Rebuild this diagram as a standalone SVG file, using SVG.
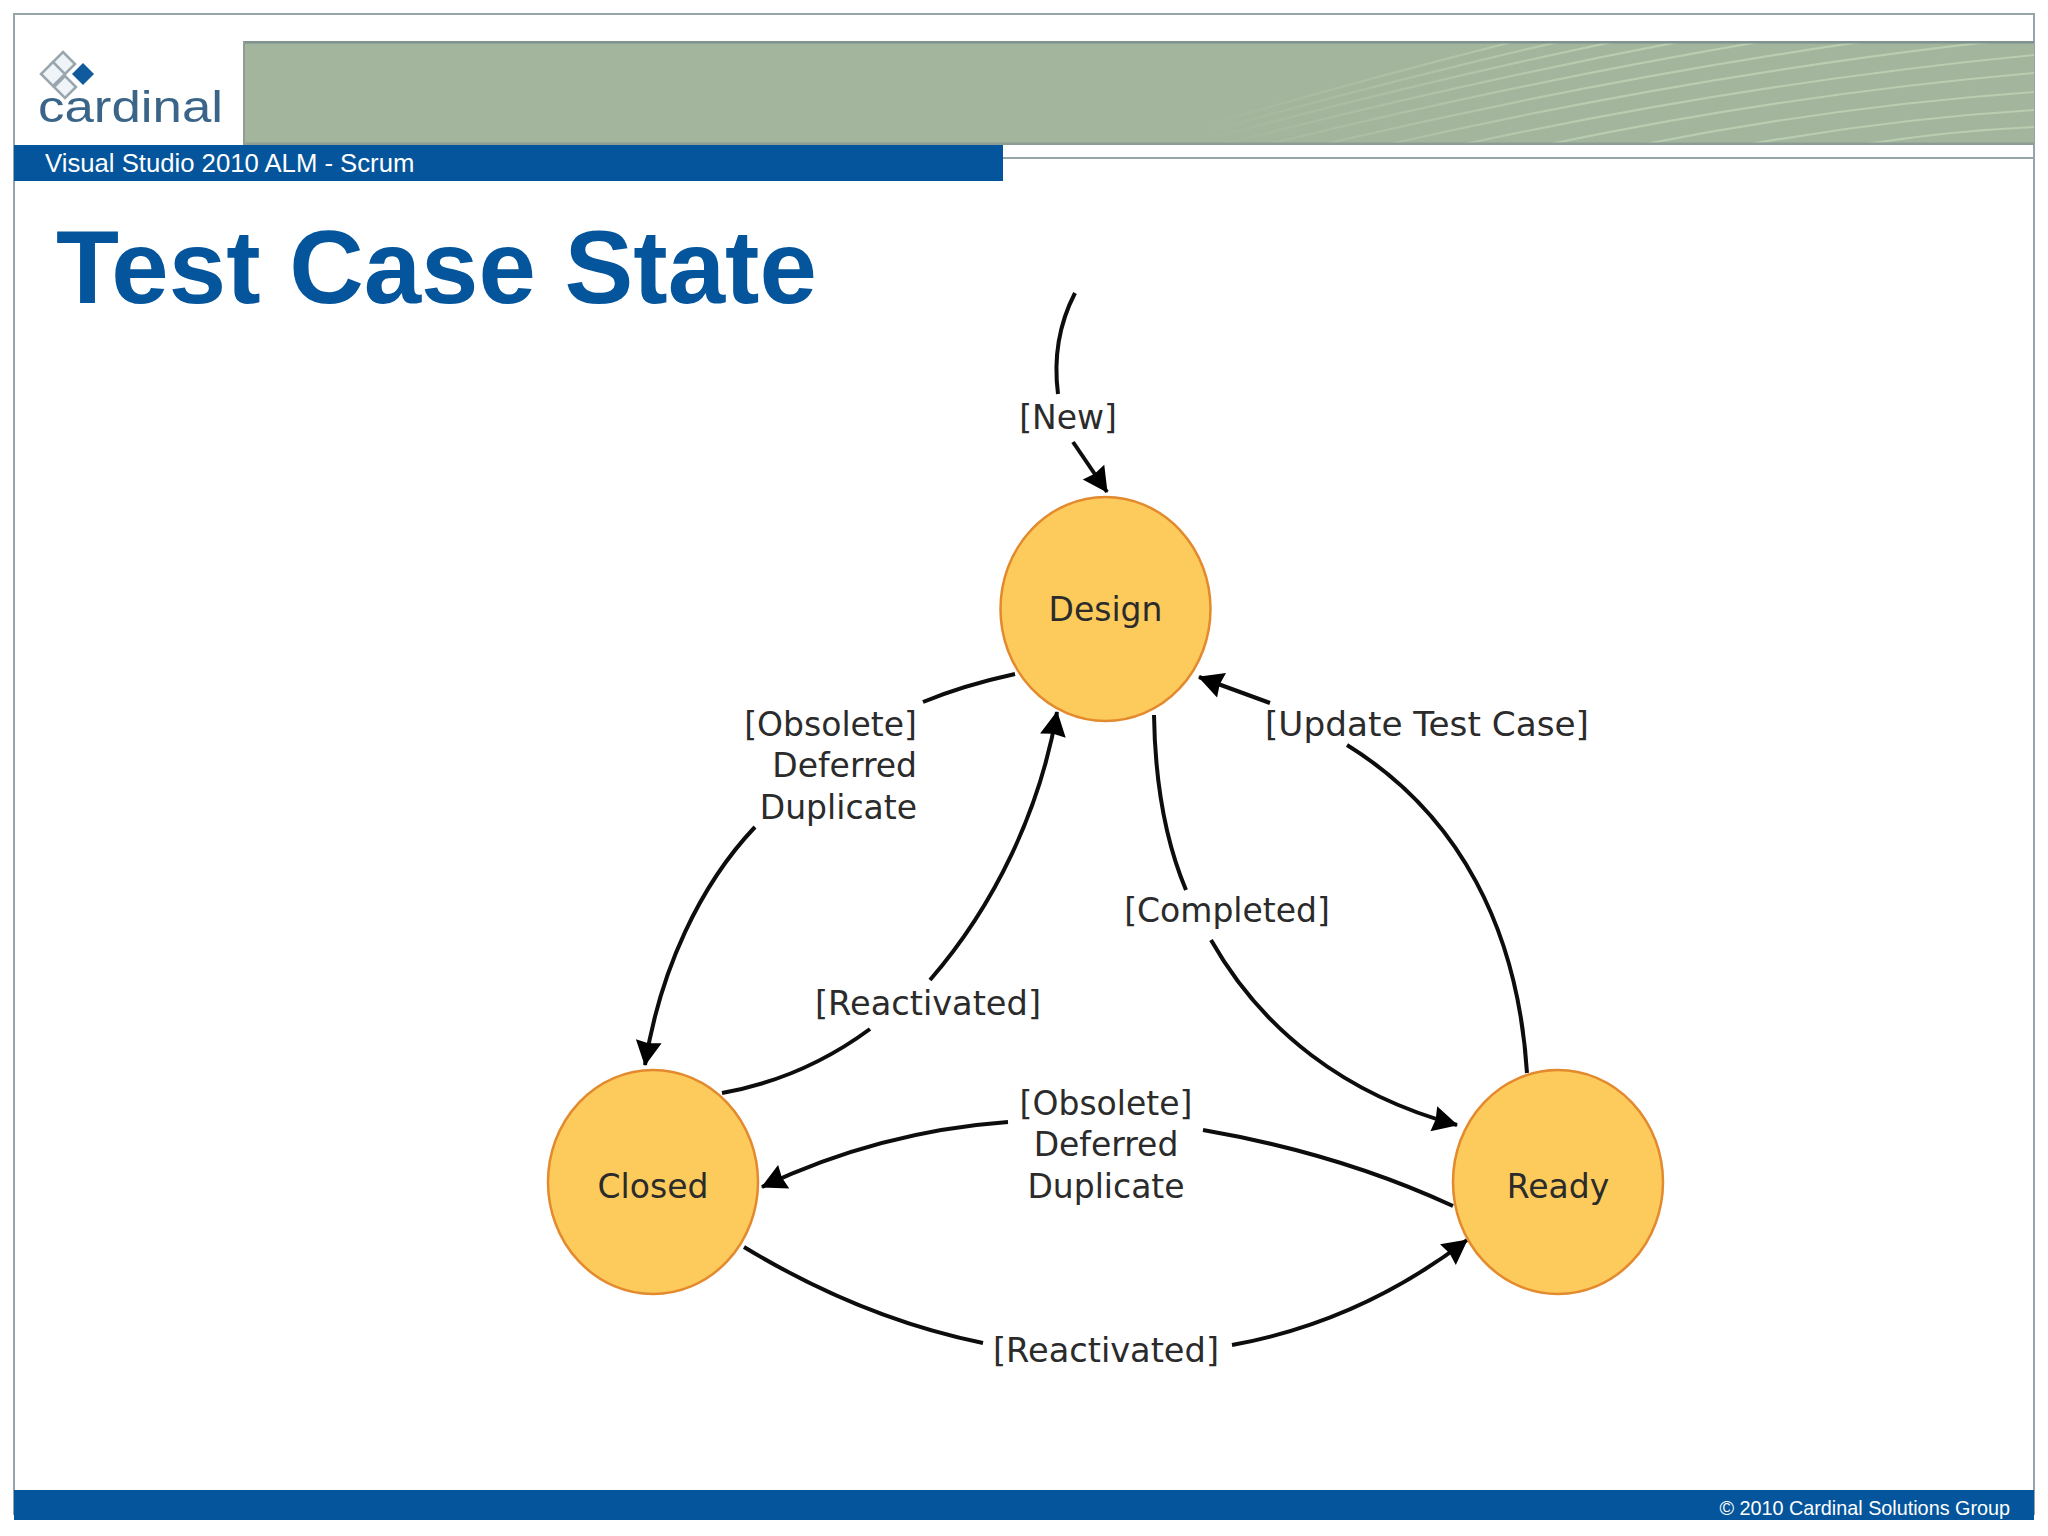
<svg xmlns="http://www.w3.org/2000/svg" width="2048" height="1536" viewBox="0 0 2048 1536">
<style>
.e{fill:none;stroke:#0d0d0d;stroke-width:4;stroke-linecap:butt}
.a{marker-end:url(#h)}
.n{fill:#fdcb5b;stroke:#e38a2e;stroke-width:2.5}
.t{font-family:"DejaVu Sans",sans-serif;font-size:33px;fill:#2b2b2b}
.m{text-anchor:middle}
.r{text-anchor:end}
.w{font-family:"Liberation Sans",Arial,sans-serif;fill:#fff}
.s{fill:none;stroke:url(#sg);stroke-width:2.2}
.d{fill:#eef4f8;stroke:#9aa6ae;stroke-width:2.5}
</style>
<defs>
<marker id="h" markerUnits="userSpaceOnUse" markerWidth="28" markerHeight="28" refX="25" refY="14" orient="auto" viewBox="0 0 28 28">
<path d="M1 1L26 14L1 27L3 14Z" fill="#000"/>
</marker>
<linearGradient id="sg" gradientUnits="userSpaceOnUse" x1="1200" y1="0" x2="1600" y2="0">
<stop offset="0" stop-color="#b9cdb0" stop-opacity="0"/>
<stop offset="1" stop-color="#b9cdb0" stop-opacity="1"/>
</linearGradient>
<clipPath id="bc"><rect x="243" y="42" width="1791" height="102"/></clipPath>
</defs>
<rect width="2048" height="1536" fill="#fff"/>
<g id="frame">
<rect x="14" y="14" width="2020" height="1500" fill="#fff" stroke="#98a4ab" stroke-width="2"/>
<line x1="1003" y1="158" x2="2034" y2="158" stroke="#98a4ab" stroke-width="2"/>
</g>
<g id="banner">
<rect x="243" y="41" width="1791" height="104" fill="#a3b59c"/>
<g clip-path="url(#bc)">
<path class="s" d="M1860 145Q1947 131 2034 127"/>
<path class="s" d="M1745 145Q1890 119 2034 110"/>
<path class="s" d="M1640 145Q1837 106 2034 92"/>
<path class="s" d="M1545 145Q1790 94 2034 73"/>
<path class="s" d="M1460 145Q1747 83 2034 55"/>
<path class="s" d="M1385 145Q1710 71 2034 37"/>
<path class="s" d="M1320 145Q1677 61 2034 19"/>
<path class="s" d="M1265 145Q1650 50 2034 1"/>
<path class="s" d="M1220 145Q1627 40 2034 -17"/>
<path class="s" d="M1185 145Q1610 30 2034 -35"/>
<path class="s" d="M1160 145Q1597 20 2034 -53"/>
<path class="s" d="M1140 145Q1587 10 2034 -71"/>
</g>
<rect x="243" y="41" width="1791" height="2.5" fill="#80928f"/>
<rect x="243" y="142.500" width="1791" height="2.500" fill="#8b9d95"/>
<rect x="243" y="41" width="2" height="104" fill="#8e9f92"/>
<rect x="14" y="145" width="989" height="36" fill="#04559b"/>
<text class="w" x="45" y="172" font-size="25.7">Visual Studio 2010 ALM - Scrum</text>
</g>
<g id="logo">
<path class="d" d="M63 52L75 64L63 76L51 64Z"/>
<path class="d" d="M53 62L65 74L53 86L41 74Z"/>
<path class="d" d="M65 76L76 87L65 98L54 87Z"/>
<path d="M83 63L94 74L83 85L72 74Z" fill="#0f5b9e"/>
<text x="38" y="122" font-family="'Liberation Sans',Arial,sans-serif" font-size="44" fill="#3b6588" textLength="185" lengthAdjust="spacingAndGlyphs">cardinal</text>
</g>
<text id="title" x="56" y="303" font-family="'Liberation Sans',Arial,sans-serif" font-weight="700" font-size="103.200" fill="#04559b">Test Case State</text>
<g id="connectors">
<path class="e" d="M1075 293C1060 322 1053 355 1058 394"/>
<path class="e a" d="M1073 442L1107 492"/>
<path class="e" d="M1015 674C983 681 952 690 923 702"/>
<path class="e a" d="M755 827C700 885 660 970 645 1065"/>
<path class="e" d="M722 1093C778 1083 828 1060 870 1029"/>
<path class="e a" d="M930 980C995 905 1040 810 1057 712"/>
<path class="e" d="M1154 715C1155 780 1165 840 1186 890"/>
<path class="e a" d="M1211 940C1262 1030 1345 1095 1457 1125"/>
<path class="e" d="M1527 1073C1518 930 1460 815 1347 745"/>
<path class="e a" d="M1270 703L1199 677"/>
<path class="e" d="M1453 1206C1375 1170 1290 1145 1203 1130"/>
<path class="e a" d="M1008 1122C925 1128 840 1150 762 1187"/>
<path class="e" d="M744 1247C815 1290 895 1325 983 1343"/>
<path class="e a" d="M1232 1345C1315 1330 1395 1295 1467 1240"/>
<g id="edge-labels">
<text class="t m" x="1068" y="429">[New]</text>
<text class="t r" x="917" y="736">[Obsolete]</text>
<text class="t r" x="917" y="777">Deferred</text>
<text class="t r" x="917" y="819">Duplicate</text>
<text class="t" x="1265" y="736" textLength="324" lengthAdjust="spacingAndGlyphs">[Update Test Case]</text>
<text class="t m" x="1227" y="922">[Completed]</text>
<text class="t" x="815" y="1015" textLength="226" lengthAdjust="spacingAndGlyphs">[Reactivated]</text>
<text class="t m" x="1106" y="1115">[Obsolete]</text>
<text class="t m" x="1106" y="1156">Deferred</text>
<text class="t m" x="1106" y="1198">Duplicate</text>
<text class="t" x="993" y="1362" textLength="226" lengthAdjust="spacingAndGlyphs">[Reactivated]</text>
</g>
</g>
<g id="node-design">
<ellipse class="n" cx="1105.500" cy="609" rx="105" ry="112"/>
<text class="t m" x="1105.500" y="621">Design</text>
</g>
<g id="node-closed">
<ellipse class="n" cx="653" cy="1182" rx="105" ry="112"/>
<text class="t m" x="653" y="1198">Closed</text>
</g>
<g id="node-ready">
<ellipse class="n" cx="1558" cy="1182" rx="105" ry="112"/>
<text class="t m" x="1558" y="1198">Ready</text>
</g>
<g id="footer">
<rect x="14" y="1490" width="2020" height="30" fill="#04559b"/>
<text class="w" x="2010" y="1515" font-size="19.800" text-anchor="end">© 2010 Cardinal Solutions Group</text>
</g>
</svg>
